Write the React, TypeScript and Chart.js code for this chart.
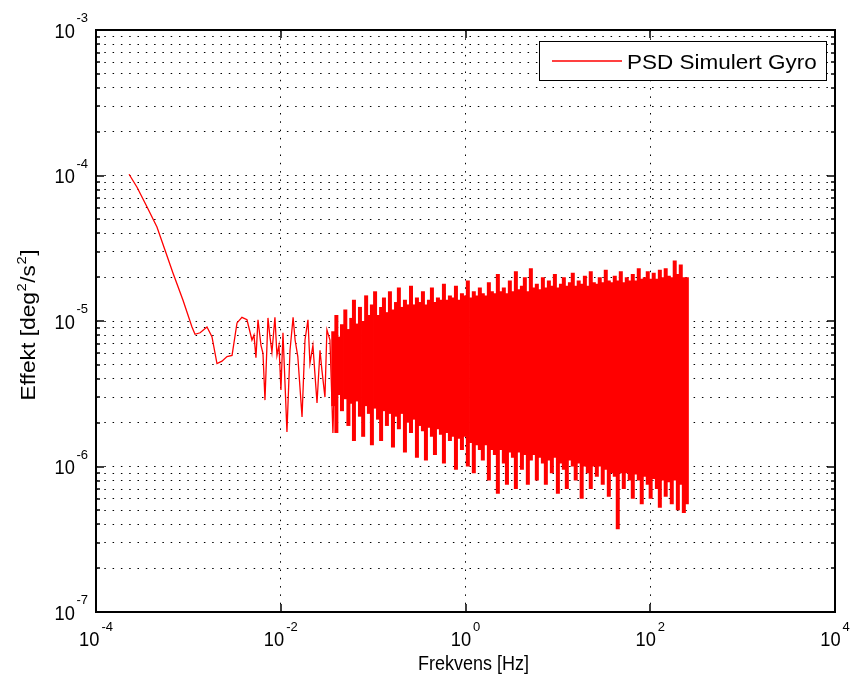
import { useEffect, useRef } from 'react';
import { Chart, registerables } from 'chart.js';

Chart.register(...registerables);

const seriesLabel = 'PSD Simulert Gyro';
const xTitle = 'Frekvens [Hz]';
const yTitleParts = [
  { text: 'Effekt [deg', sup: false },
  { text: '2', sup: true },
  { text: '/s', sup: false },
  { text: '2', sup: true },
  { text: ']', sup: false },
];

// Low-frequency part of the spectrum (single visible trace)
const lowFreq = [
  2.28e-4, 2.78e-4, 3.56e-4, 4.57e-4, 5.58e-4, 6.81e-4, 8.75e-4, 1.094e-3, 1.18e-3, 1.34e-3,
  1.59e-3, 1.8e-3, 2.04e-3, 2.31e-3, 2.62e-3, 2.97e-3, 3.36e-3, 3.8e-3, 4.31e-3, 4.88e-3,
  5.13e-3, 5.39e-3, 5.67e-3, 6.11e-3, 6.42e-3, 6.75e-3, 7.27e-3, 7.64e-3, 8.03e-3, 8.65e-3,
  9.1e-3, 9.57e-3, 1.005e-2, 1.057e-2, 1.167e-2, 1.26e-2, 1.36e-2, 1.43e-2, 1.53e-2, 1.7e-2,
  1.83e-2, 1.97e-2, 2.07e-2, 2.23e-2, 2.34e-2, 2.47e-2, 2.66e-2, 2.79e-2, 3.01e-2, 3.16e-2,
  3.41e-2, 3.67e-2, 3.95e-2, 4.16e-2,
];
const lowPsd = [
  1.02e-4, 8.3e-5, 6.1e-5, 4.43e-5, 3.08e-5, 2.14e-5, 1.39e-5, 9.1e-6, 8.1e-6, 8.3e-6,
  9.1e-6, 7.8e-6, 5.1e-6, 5.3e-6, 5.7e-6, 5.8e-6, 9.7e-6, 1.06e-5, 1.02e-5, 7.4e-6,
  8.0e-6, 5.6e-6, 1.02e-5, 6.8e-6, 6.0e-6, 2.86e-6, 1.05e-5, 7.8e-6, 6.1e-6, 1.06e-5,
  5.8e-6, 6.8e-6, 3.36e-6, 8.3e-6, 1.73e-6, 6.3e-6, 1.06e-5, 7.4e-6, 5.7e-6, 2.19e-6,
  7.4e-6, 1.02e-5, 5.1e-6, 6.8e-6, 4.4e-6, 2.73e-6, 6.3e-6, 4.6e-6, 3.0e-6, 8.7e-6,
  7.4e-6, 1.7e-6, 9.1e-6, 3.9e-6,
];

// Dense part: per-frequency span (min..max) of the noisy trace
const bandFreq = [
  0.037, 0.04, 0.043, 0.046, 0.05, 0.054, 0.058, 0.062, 0.067, 0.072,
  0.078, 0.084, 0.09, 0.097, 0.105, 0.113, 0.122, 0.131, 0.141, 0.152,
  0.164, 0.177, 0.19, 0.205, 0.221, 0.238, 0.257, 0.277, 0.298, 0.321,
  0.346, 0.373, 0.402, 0.433, 0.467, 0.503, 0.542, 0.584, 0.629, 0.678,
  0.731, 0.788, 0.849, 0.915, 0.986, 1.06, 1.15, 1.23, 1.33, 1.43,
  1.54, 1.66, 1.79, 1.93, 2.08, 2.24, 2.42, 2.6, 2.81, 3.02,
  3.26, 3.51, 3.78, 4.08, 4.39, 4.73, 5.1, 5.5, 5.92, 6.38,
  6.88, 7.41, 7.99, 8.61, 9.28, 10.0, 10.8, 11.6, 12.5, 13.5,
  14.5, 15.6, 16.8, 18.1, 19.6, 21.1, 22.7, 24.5, 26.4, 28.4,
  30.6, 33.0, 35.6, 38.3, 41.3, 44.5, 48.0, 51.7, 55.7, 60.0,
  64.7, 69.7, 75.1, 80.9, 87.2, 94.0, 101, 109, 118, 127,
  137, 147, 159, 171, 184, 199, 214, 231, 249,
];
const bandHigh = [
  8.5e-6, 1.1e-5, 7.8e-6, 9.5e-6, 1.2e-5, 8.8e-6, 1.05e-5, 1.4e-5, 9.6e-6, 1.25e-5,
  1.0e-5, 1.5e-5, 1.1e-5, 1.3e-5, 1.6e-5, 1.1e-5, 1.25e-5, 1.45e-5, 1.15e-5, 1.6e-5,
  1.2e-5, 1.35e-5, 1.7e-5, 1.25e-5, 1.4e-5, 1.3e-5, 1.75e-5, 1.3e-5, 1.45e-5, 1.35e-5,
  1.6e-5, 1.3e-5, 1.4e-5, 1.7e-5, 1.35e-5, 1.45e-5, 1.4e-5, 1.8e-5, 1.4e-5, 1.5e-5,
  1.45e-5, 1.75e-5, 1.4e-5, 1.55e-5, 1.5e-5, 1.9e-5, 1.45e-5, 1.6e-5, 1.5e-5, 1.7e-5,
  1.55e-5, 1.5e-5, 1.85e-5, 1.6e-5, 1.55e-5, 2.1e-5, 1.6e-5, 1.7e-5, 1.55e-5, 1.9e-5,
  1.6e-5, 2.2e-5, 1.65e-5, 1.75e-5, 2.0e-5, 1.6e-5, 2.3e-5, 1.7e-5, 1.8e-5, 1.65e-5,
  2.0e-5, 1.7e-5, 1.9e-5, 1.75e-5, 2.1e-5, 1.7e-5, 1.8e-5, 2.0e-5, 1.75e-5, 1.85e-5,
  2.15e-5, 1.75e-5, 1.9e-5, 1.8e-5, 2.05e-5, 1.75e-5, 2.2e-5, 1.85e-5, 1.8e-5, 2.0e-5,
  1.85e-5, 2.25e-5, 1.9e-5, 1.85e-5, 2.05e-5, 1.9e-5, 2.2e-5, 1.85e-5, 2.0e-5, 1.9e-5,
  2.1e-5, 1.9e-5, 2.3e-5, 1.95e-5, 2.0e-5, 2.2e-5, 1.95e-5, 2.15e-5, 1.95e-5, 2.25e-5,
  2.0e-5, 2.3e-5, 2.05e-5, 2.0e-5, 2.6e-5, 2.1e-5, 2.45e-5, 2.0e-5, 2.0e-5,
];
const bandLow = [
  2.6e-6, 1.7e-6, 3.1e-6, 2.4e-6, 2.9e-6, 1.9e-6, 2.7e-6, 1.5e-6, 2.8e-6, 2.2e-6,
  1.6e-6, 2.6e-6, 2.3e-6, 1.4e-6, 2.5e-6, 2.1e-6, 1.5e-6, 2.4e-6, 1.9e-6, 2.3e-6,
  1.35e-6, 2.2e-6, 1.8e-6, 2.3e-6, 1.25e-6, 2.0e-6, 1.7e-6, 2.1e-6, 1.15e-6, 1.9e-6,
  1.75e-6, 1.1e-6, 1.85e-6, 1.6e-6, 1.2e-6, 1.8e-6, 1.65e-6, 1.05e-6, 1.7e-6, 1.5e-6,
  1.6e-6, 9.5e-7, 1.55e-6, 1.3e-6, 1.6e-6, 1.0e-6, 1.45e-6, 9.0e-7, 1.4e-6, 1.3e-6,
  1.1e-6, 1.4e-6, 8.0e-7, 1.3e-6, 1.2e-6, 6.5e-7, 1.3e-6, 1.05e-6, 7.5e-7, 1.25e-6,
  1.15e-6, 7.0e-7, 1.25e-6, 9.5e-7, 1.2e-6, 7.5e-7, 1.1e-6, 1.2e-6, 8.0e-7, 1.15e-6,
  1.05e-6, 7.5e-7, 1.1e-6, 9.0e-7, 1.15e-6, 6.5e-7, 1.05e-6, 9.5e-7, 7.0e-7, 1.1e-6,
  1.0e-6, 8.0e-7, 1.05e-6, 6.0e-7, 1.0e-6, 9.0e-7, 7.0e-7, 1.0e-6, 8.5e-7, 1.0e-6,
  7.5e-7, 9.5e-7, 6.2e-7, 9.0e-7, 8.5e-7, 3.7e-7, 9.0e-7, 7.0e-7, 9.0e-7, 8.0e-7,
  6.0e-7, 8.8e-7, 8.0e-7, 5.5e-7, 8.5e-7, 7.5e-7, 6.0e-7, 8.2e-7, 7.0e-7, 5.2e-7,
  8.0e-7, 6.2e-7, 7.8e-7, 5.5e-7, 8.0e-7, 5.0e-7, 7.5e-7, 4.8e-7, 5.5e-7,
];

const xTickValues = [1e-4, 1e-2, 1, 1e2, 1e4];
const yDecades = [1e-7, 1e-6, 1e-5, 1e-4, 1e-3];
const yMinorMultipliers = [2, 3, 4, 5, 6, 7, 8, 9];

const FONT = '"Liberation Sans", Arial, Helvetica, sans-serif';

function buildYTicks(): number[] {
  const out: number[] = [];
  yDecades.forEach((d, i) => {
    out.push(d);
    if (i < yDecades.length - 1) yMinorMultipliers.forEach((m) => out.push(d * m));
  });
  return out;
}

function isMajor(v: number) {
  const l = Math.log10(v);
  return Math.abs(l - Math.round(l)) < 1e-6;
}

function textW(ctx: CanvasRenderingContext2D, font: string, t: string, sx: number) {
  ctx.font = font;
  return ctx.measureText(t).width * sx;
}

function drawText(ctx: CanvasRenderingContext2D, font: string, t: string, x: number, y: number, sx: number) {
  ctx.save();
  ctx.font = font;
  ctx.textAlign = 'left';
  ctx.textBaseline = 'alphabetic';
  ctx.translate(x, y);
  ctx.scale(sx, 1);
  ctx.fillText(t, 0, 0);
  ctx.restore();
}

const matlabAxes = {
  id: 'matlabAxes',
  afterDraw(chart: any) {
    const { ctx, chartArea: a, scales } = chart;
    const xs = scales.x;
    const ys = scales.y;
    ctx.save();
    ctx.strokeStyle = '#000';
    ctx.fillStyle = '#000';

    // tick marks (inside)
    ctx.lineWidth = 1.5;
    ys.ticks.forEach((t: any) => {
      const py = Math.round(ys.getPixelForValue(t.value));
      const len = isMajor(t.value) ? 8 : 4;
      ctx.beginPath();
      ctx.moveTo(a.left, py);
      ctx.lineTo(a.left + len, py);
      ctx.moveTo(a.right, py);
      ctx.lineTo(a.right - len, py);
      ctx.stroke();
    });
    xs.ticks.forEach((t: any) => {
      const px = Math.round(xs.getPixelForValue(t.value));
      ctx.beginPath();
      ctx.moveTo(px, a.bottom);
      ctx.lineTo(px, a.bottom - 8);
      ctx.moveTo(px, a.top);
      ctx.lineTo(px, a.top + 8);
      ctx.stroke();
    });

    // axes box
    ctx.lineWidth = 2;
    ctx.strokeRect(a.left, a.top, a.right - a.left, a.bottom - a.top);

    const baseFont = `21px ${FONT}`;
    const expFont = `13px ${FONT}`;
    const sx = 0.87;

    // y tick labels
    ys.ticks.forEach((t: any) => {
      if (!isMajor(t.value)) return;
      const py = ys.getPixelForValue(t.value);
      const e = String(Math.round(Math.log10(t.value)));
      const wE = textW(ctx, expFont, e, 1);
      const w10 = textW(ctx, baseFont, '10', sx);
      const right = a.left - 8;
      drawText(ctx, expFont, e, right - wE, py - 8, 1);
      drawText(ctx, baseFont, '10', right - wE - 1.5 - w10, py + 7.5, sx);
    });

    // x tick labels
    xs.ticks.forEach((t: any) => {
      const px = xs.getPixelForValue(t.value);
      const e = String(Math.round(Math.log10(t.value)));
      const wE = textW(ctx, expFont, e, 1);
      const w10 = textW(ctx, baseFont, '10', sx);
      const total = w10 + 2 + wE;
      const start = px - total / 2;
      drawText(ctx, baseFont, '10', start, a.bottom + 34, sx);
      drawText(ctx, expFont, e, start + w10 + 2, a.bottom + 19, 1);
    });

    // x title
    const titleFont = `20px ${FONT}`;
    const wx = textW(ctx, titleFont, xTitle, 0.9);
    drawText(ctx, titleFont, xTitle, (a.left + a.right) / 2 + 8 - wx / 2, a.bottom + 58, 0.9);

    // y title (rotated, with superscripts)
    const supFont = `13px ${FONT}`;
    const ysx = 1.14;
    const widths = yTitleParts.map((p) => textW(ctx, p.sup ? supFont : titleFont, p.text, ysx) + (p.sup ? 1 : 0));
    const totalY = widths.reduce((s, w) => s + w, 0);
    ctx.save();
    ctx.translate(35, (a.top + a.bottom) / 2 + 4);
    ctx.rotate(-Math.PI / 2);
    let cx = -totalY / 2;
    yTitleParts.forEach((p, i) => {
      drawText(ctx, p.sup ? supFont : titleFont, p.text, cx + (p.sup ? 0.5 : 0), p.sup ? -9 : 0, ysx);
      cx += widths[i];
    });
    ctx.restore();

    // legend
    const ds = chart.data.datasets[0];
    const lx = a.right - 9 - 287;
    const ly = a.top + 11;
    ctx.fillStyle = '#fff';
    ctx.fillRect(lx, ly, 287, 39);
    ctx.strokeStyle = '#000';
    ctx.lineWidth = 1;
    ctx.strokeRect(lx + 0.5, ly + 0.5, 287, 39);
    ctx.strokeStyle = ds.borderColor;
    ctx.lineWidth = 1.5;
    ctx.beginPath();
    ctx.moveTo(lx + 13, ly + 20);
    ctx.lineTo(lx + 83, ly + 20);
    ctx.stroke();
    ctx.fillStyle = '#000';
    drawText(ctx, `21px ${FONT}`, ds.label, lx + 88, ly + 27.5, 1.07);

    ctx.restore();
  },
};

export default function App() {
  const ref = useRef<HTMLCanvasElement>(null);

  useEffect(() => {
    const canvas = ref.current;
    if (!canvas) return;
    const yTicks = buildYTicks();
    const gridColor = '#000';
    const chart = new Chart(canvas, {
      type: 'line',
      data: {
        datasets: [
          {
            type: 'line',
            label: seriesLabel,
            data: lowFreq.map((f, i) => ({ x: f, y: lowPsd[i] })),
            borderColor: '#ff0000',
            backgroundColor: '#ff0000',
            borderWidth: 1.3,
            pointRadius: 0,
            fill: false,
            tension: 0,
          } as any,
          {
            type: 'bar',
            label: seriesLabel,
            data: bandFreq.map((f, i) => ({ x: f, y: [bandLow[i], bandHigh[i]] })),
            backgroundColor: '#ff0000',
            borderWidth: 0,
            barThickness: 4,
            barPercentage: 1,
            categoryPercentage: 1,
            inflateAmount: 0,
          } as any,
        ],
      },
      options: {
        responsive: true,
        maintainAspectRatio: false,
        animation: false,
        events: [],
        layout: { padding: { left: 96, top: 30, right: 19, bottom: 74 }, autoPadding: false } as any,
        plugins: {
          legend: { display: false },
          tooltip: { enabled: false },
        },
        scales: {
          x: {
            type: 'logarithmic',
            min: 1e-4,
            max: 1e4,
            offset: false,
            afterBuildTicks: (s: any) => {
              s.ticks = xTickValues.map((v) => ({ value: v }));
            },
            ticks: { display: false },
            grid: { color: gridColor, lineWidth: 1, drawTicks: false, offset: false },
            border: { display: false, dash: [1.5, 6.8] },
          } as any,
          y: {
            type: 'logarithmic',
            min: 1e-7,
            max: 1e-3,
            afterBuildTicks: (s: any) => {
              s.ticks = yTicks.map((v) => ({ value: v }));
            },
            ticks: { display: false },
            grid: { color: gridColor, lineWidth: 1, drawTicks: false },
            border: { display: false, dash: [1.5, 6.8] },
          } as any,
        },
      },
      plugins: [matlabAxes],
    });
    return () => chart.destroy();
  }, []);

  return (
    <div style={{ position: 'absolute', left: 0, top: 0, width: 854, height: 686, background: '#fff' }}>
      <canvas ref={ref} />
    </div>
  );
}
